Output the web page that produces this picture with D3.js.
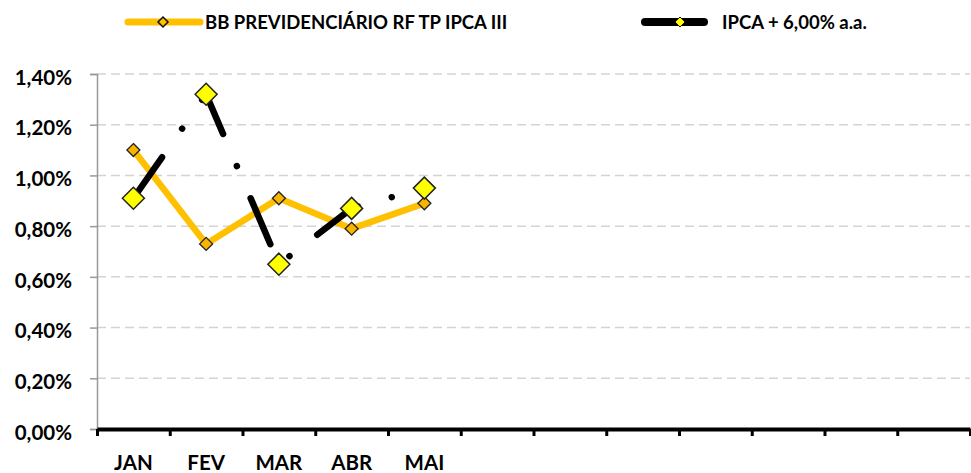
<!DOCTYPE html>
<html><head><meta charset="utf-8">
<script src="https://cdn.jsdelivr.net/npm/d3@7"></script>
<style>
body{margin:0;background:#fff}
text{font-family:Lato,"Open Sans",sans-serif;font-weight:700;fill:#000}
</style>
</head><body>
<svg id="c" width="971" height="473"></svg>
<script>
const months = ["JAN","FEV","MAR","ABR","MAI","JUN","JUL","AGO","SET","OUT","NOV","DEZ"];
const monthLabels = ["JAN","FEV","MAR","ABR","MAI","","","","","","",""];
const bbValues = [1.10,0.73,0.91,0.79,0.89];
const ipcaValues = [0.91,1.32,0.65,0.87,0.95];
const yTicks = [0,0.2,0.4,0.6,0.8,1.0,1.2,1.4];
const seriesNames = ["BB PREVIDENCIÁRIO RF TP IPCA III","IPCA + 6,00% a.a."];

const svg = d3.select("#c");
const L = 97, R = 970, T = 74, B = 429;
const x = d3.scaleBand().domain(months).range([L,R]);
const xEdge = d3.scaleLinear().domain([0,months.length]).range([L,R]);
const y = d3.scaleLinear().domain([0,1.4]).range([B,T]);
const fmt = d => d.toFixed(2).replace(".",",")+"%";
const cx = i => x(months[i]) + x.bandwidth()/2;

// gridlines
svg.append("g").selectAll("line").data(yTicks.filter(d=>d>0)).join("line")
  .attr("x1",L).attr("x2",R).attr("y1",d=>y(d)).attr("y2",d=>y(d))
  .attr("stroke","#d4d4d4").attr("stroke-width",1.5).attr("stroke-dasharray","9,5");

// y axis
const ya = svg.append("g").attr("transform",`translate(${L},0)`)
  .call(d3.axisLeft(y).tickValues(yTicks).tickFormat(fmt).tickSize(7).tickPadding(18));
ya.select(".domain").attr("stroke","#999").attr("stroke-width",1.5);
ya.selectAll(".tick line").attr("stroke","#999").attr("stroke-width",1.5);
ya.selectAll("text").attr("font-size",20.5).attr("dy","0.5em").style("font-family","Lato").style("font-weight",700);

// x axis edges
const xa = svg.append("g").attr("transform",`translate(0,${B})`)
  .call(d3.axisBottom(xEdge).tickValues(d3.range(months.length+1)).tickFormat("").tickSize(7).tickSizeOuter(0));
xa.select(".domain").attr("stroke","#000").attr("stroke-width",4);
xa.selectAll(".tick line").attr("stroke","#000").attr("stroke-width",3);

// x labels
const xl = svg.append("g").attr("transform",`translate(0,${B})`)
  .call(d3.axisBottom(x).tickSize(0).tickPadding(26).tickFormat((d,i)=>monthLabels[i]));
xl.select(".domain").remove();
xl.selectAll("text").attr("font-size",20.5).style("font-family","Lato").style("font-weight",700);

const diamond = r => `M0,${-r}L${r},0L0,${r}L${-r},0Z`;

// orange series
svg.append("path").datum(bbValues)
  .attr("d", d3.line().x((d,i)=>cx(i)).y(d=>y(d)))
  .attr("fill","none").attr("stroke","#FFC000").attr("stroke-width",6.5).attr("stroke-linejoin","round");
svg.append("g").selectAll("path").data(bbValues).join("path")
  .attr("transform",(d,i)=>`translate(${cx(i)},${y(d)})`)
  .attr("d",diamond(6.5)).attr("fill","#F7B500").attr("stroke","#222").attr("stroke-width",1.3);

// black series
svg.append("path").datum(ipcaValues)
  .attr("d", d3.line().x((d,i)=>cx(i)).y(d=>y(d)))
  .attr("fill","none").attr("stroke","#000").attr("stroke-width",6.5)
  .attr("stroke-linecap","round").attr("stroke-linejoin","round")
  .attr("stroke-dasharray","50,35,0.01,35");
svg.append("g").selectAll("path").data(ipcaValues).join("path")
  .attr("transform",(d,i)=>`translate(${cx(i)},${y(d)})`)
  .attr("d",diamond(11)).attr("fill","#FFFF00").attr("stroke","#222").attr("stroke-width",1.5);

// legend
const lg = svg.append("g");
lg.append("line").attr("x1",128).attr("x2",200).attr("y1",22).attr("y2",22)
  .attr("stroke","#FFC000").attr("stroke-width",7).attr("stroke-linecap","round");
lg.append("path").attr("transform","translate(163,22)").attr("d",diamond(5))
  .attr("fill","#FFC000").attr("stroke","#111").attr("stroke-width",1.5);
lg.append("text").attr("x",205).attr("y",22).attr("dy","0.36em").attr("font-size",18.5).text(seriesNames[0]);
lg.append("line").attr("x1",645).attr("x2",704).attr("y1",22).attr("y2",22)
  .attr("stroke","#000").attr("stroke-width",8).attr("stroke-linecap","round");
lg.append("path").attr("transform","translate(680,22)").attr("d",diamond(5))
  .attr("fill","#FFFF00").attr("stroke","#111").attr("stroke-width",1);
lg.append("text").attr("x",722).attr("y",22).attr("dy","0.36em").attr("font-size",18.5).text(seriesNames[1]);
</script>
</body></html>
